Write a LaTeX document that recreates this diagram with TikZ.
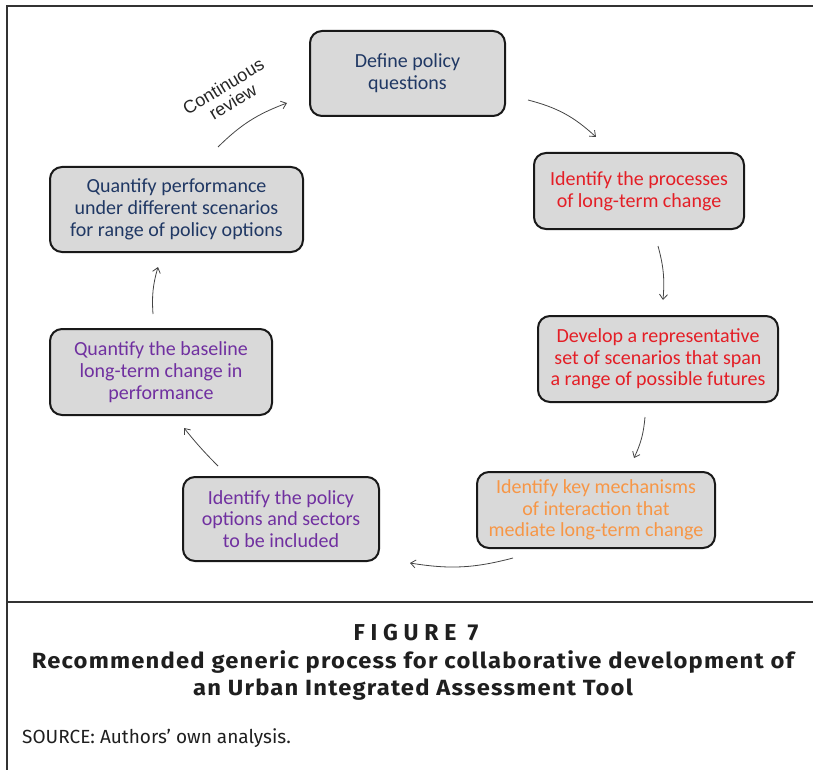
\documentclass[tikz,border=0pt]{standalone}
\usepackage{fontspec}
\setmainfont{Carlito}
\newfontfamily\revfont{Liberation Sans}
\newfontfamily\capfont{Fira Sans}
\newfontfamily\titlefont[FakeStretch=1.08,LetterSpace=5.5]{Fira Sans}
\newfontfamily\figfont[LetterSpace=25]{Fira Sans}
\usetikzlibrary{arrows.meta}
\definecolor{navy}{HTML}{203864}
\definecolor{redtxt}{HTML}{E41E26}
\definecolor{orangetxt}{HTML}{F79646}
\definecolor{purpletxt}{HTML}{7030A0}
\definecolor{boxfill}{HTML}{D9D9D9}
\definecolor{framec}{HTML}{333333}
\definecolor{arrowc}{HTML}{444444}
\begin{document}
\begin{tikzpicture}[x=1pt,y=-1pt,
  stepbox/.style={draw=black!90,line width=2pt,fill=boxfill,rounded corners=12pt,
     align=center,inner sep=0pt,font=\fontsize{20}{21.7}\selectfont},
  flow/.style={draw=arrowc,line width=0.8pt,-{Straight Barb[length=5pt,width=8pt]}},
  framel/.style={draw=framec,line width=1.5pt}]
\useasboundingbox (0,0) rectangle (813,770);
% frame
\draw[framel] (7,770) -- (7,6) -- (813,6);
\draw[framel] (7,602) -- (813,602);
% boxes
\node[stepbox,minimum width=195pt,minimum height=85pt,text=navy] (b1) at (407.5,73.5) {Define policy\\questions};
\node[stepbox,minimum width=210pt,minimum height=76pt,text=redtxt] (b2) at (639,191) {Identify the processes\\of long-term change};
\node[stepbox,minimum width=240pt,minimum height=86pt,text=redtxt] (b3) at (658,359) {Develop a representative\\set of scenarios that span\\a range of possible futures};
\node[stepbox,minimum width=238pt,minimum height=76pt,text=orangetxt] (b4) at (596,510) {Identify key mechanisms\\of interaction that\\mediate long-term change};
\node[stepbox,minimum width=196pt,minimum height=84pt,text=purpletxt] (b5) at (281,519) {Identify the policy\\options and sectors\\to be included};
\node[stepbox,minimum width=222pt,minimum height=86pt,text=purpletxt] (b6) at (161,372) {Quantify the baseline\\long-term change in\\performance};
\node[stepbox,minimum width=253pt,minimum height=85pt,text=navy] (b7) at (176.5,209.5) {Quantify performance\\under different scenarios\\for range of policy options};
% arrow end points
\coordinate (r0) at (218,147); \coordinate (r1) at (287,103);
\coordinate (a1) at (528,100); \coordinate (a2) at (596,137);
\coordinate (c1) at (658,246); \coordinate (c2) at (663,300);
\coordinate (d1) at (645,417); \coordinate (d2) at (634,458);
\coordinate (e1) at (513,558); \coordinate (e2) at (410,563);
\coordinate (f1) at (218,466); \coordinate (f2) at (184,428);
\coordinate (g1) at (153,314); \coordinate (g2) at (158,267);
\draw[flow] (r0) to[bend left=12] (r1);
\draw[flow] (a1) to[bend left=14] (a2);
\draw[flow] (c1) to[bend left=10] (c2);
\draw[flow] (d1) to[bend left=10] (d2);
\draw[flow] (e1) to[bend left=12] (e2);
\draw[flow] (f1) to[bend left=3] (f2);
\draw[flow] (g1) to[bend left=10] (g2);
\node[rotate=31,align=center,font=\revfont\fontsize{18}{18.5}\selectfont,text=black!85] (rev) at (228,94) {Continuous\\review};
% caption
\node[font=\figfont\bfseries\fontsize{23}{23}\selectfont,text=black!88,anchor=base] (fig) at (416,640) {FIGURE 7};
\node[font=\titlefont\bfseries\fontsize{22}{27}\selectfont,text=black!88,align=center,anchor=north] (ttl) at (413,647) {Recommended generic process for collaborative development of\\an Urban Integrated Assessment Tool};
\node[font=\capfont\fontsize{19}{19}\selectfont,text=black!88,anchor=base west,inner sep=0pt] (src) at (22,743) {SOURCE: Authors’ own analysis.};
\end{tikzpicture}
\end{document}
